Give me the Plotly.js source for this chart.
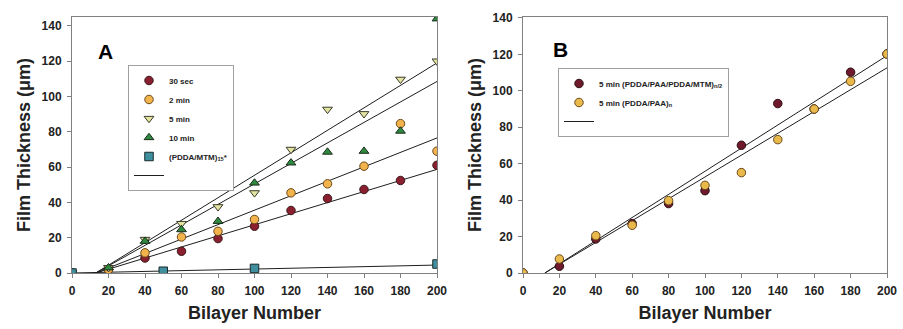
<!DOCTYPE html>
<html>
<head>
<meta charset="utf-8">
<script src="https://cdn.plot.ly/plotly-3.0.1.min.js"></script>
<style>html,body{margin:0;padding:0;background:#fff;}#chart{width:903px;height:329px;}</style>
</head>
<body>
<div id="chart"></div>
<script>
// ---- Panel A data ----
const bilayerA = [0, 20, 40, 60, 80, 100, 120, 140, 160, 180, 200];
const a30sec = [0, 2, 8.5, 12.3, 19.5, 26.5, 35.4, 42.2, 47.3, 52.4, 61];
const a2min  = [0, 2, 11.4, 20.4, 23.6, 30.3, 45.4, 50.5, 60.5, 84.6, 69];
const a5min  = [0, 3, 19, 28, 37.5, 45.4, 70, 92.7, 90.2, 109.7, 120];
const a10min = [0, 3, 18, 24.6, 29.3, 51, 62.4, 68.5, 69, 80.4, 144];
const bilayerPddaMtm = [0, 50, 100, 200];
const aPddaMtm = [0, 1, 2.6, 5.1];
// regression lines
const fitAx = [13, 200];
const fitA5min = [0, 119];
const fitA10min = [0, 108.5];
const fitA2min = [0, 76.5];
const fitA30sec = [0, 58.7];
const fitAPddaX = [0, 200];
const fitAPdda = [0, 4.5];

// ---- Panel B data ----
const bilayerB = [0, 20, 40, 60, 80, 100, 120, 140, 160, 180, 200];
const bMixed = [0, 3.7, 18.7, 27.1, 38.1, 45.2, 70.1, 93, 90, 110.2, 120.2];
const bPaa   = [0, 7.7, 20.5, 26.2, 39.7, 48.1, 55.1, 73.2, 90, 105.2, 120.2];
const fitBx = [12, 200];
const fitBMixed = [0, 119.3];
const fitBPaa = [0, 112.6];

const yTicks = [0, 20, 40, 60, 80, 100, 120, 140];
const xTicks = [0, 20, 40, 60, 80, 100, 120, 140, 160, 180, 200];

const FONT = 'Liberation Sans, Arial, sans-serif';
const lineStyle = {color: '#1e1e1e', width: 1};

function fit(x, y, xa, ya, legend, show) {
  return {x: x, y: y, xaxis: xa, yaxis: ya, mode: 'lines', line: lineStyle,
          name: '\u00a0', showlegend: !!show, legend: legend, hoverinfo: 'skip'};
}
function pts(x, y, xa, ya, name, symbol, fill, edge, legend) {
  return {x: x, y: y, xaxis: xa, yaxis: ya, mode: 'markers', name: name, legend: legend,
          marker: {symbol: symbol, size: 8.5, color: fill, line: {color: edge, width: 1}}};
}

const traces = [
  fit(fitAx, fitA5min, 'x', 'y', 'legend', false),
  fit(fitAx, fitA10min, 'x', 'y', 'legend', false),
  fit(fitAx, fitA2min, 'x', 'y', 'legend', false),
  fit(fitAx, fitA30sec, 'x', 'y', 'legend', false),
  fit(fitAPddaX, fitAPdda, 'x', 'y', 'legend', false),
  pts(bilayerA, a30sec, 'x', 'y', '30 sec', 'circle', '#8a1f30', '#3a1a1a', 'legend'),
  pts(bilayerA, a2min, 'x', 'y', '2 min', 'circle', '#f2b24c', '#6b4a1a', 'legend'),
  pts(bilayerA, a5min, 'x', 'y', '5 min', 'triangle-down', '#e4e4a2', '#3a3a2a', 'legend'),
  pts(bilayerA, a10min, 'x', 'y', '10 min', 'triangle-up', '#2f8a3f', '#1a2a1a', 'legend'),
  pts(bilayerPddaMtm, aPddaMtm, 'x', 'y', '(PDDA/MTM)<sub>15</sub>*', 'square', '#3f8f9f', '#1a2a2a', 'legend'),
  fit([0, 1], [null, null], 'x', 'y', 'legend', true),

  fit(fitBx, fitBMixed, 'x2', 'y2', 'legend2', false),
  fit(fitBx, fitBPaa, 'x2', 'y2', 'legend2', false),
  pts(bilayerB, bMixed, 'x2', 'y2', '5 min (PDDA/PAA/PDDA/MTM)<sub>n/2</sub>', 'circle', '#6e1a2c', '#2a1010', 'legend2'),
  pts(bilayerB, bPaa, 'x2', 'y2', '5 min (PDDA/PAA)<sub>n</sub>', 'circle', '#e9b94c', '#6b4a1a', 'legend2'),
  fit([0, 1], [null, null], 'x2', 'y2', 'legend2', true)
];

const tickFont = {family: FONT, size: 12, weight: 'bold', color: '#222'};
const titleFont = {family: FONT, size: 18, weight: 'bold', color: '#222'};

function xAxis(domain, anchor) {
  return {domain: domain, anchor: anchor, range: [0, 200], tickvals: xTicks, ticktext: xTicks.map(String),
    showgrid: false, zeroline: false, showline: true, linecolor: '#808080', linewidth: 1, mirror: true,
    ticks: 'outside', ticklen: 4, tickcolor: '#808080', ticklabelstandoff: 3, tickfont: tickFont,
    title: {text: 'Bilayer Number', font: titleFont, standoff: 8}};
}
function yAxis(domain, anchor, top) {
  return {domain: domain, anchor: anchor, range: [0, top], tickvals: yTicks, ticktext: yTicks.map(String),
    showgrid: false, zeroline: false, showline: true, linecolor: '#808080', linewidth: 1, mirror: true,
    ticks: 'outside', ticklen: 4, tickcolor: '#808080', ticklabelstandoff: 3, tickfont: tickFont,
    title: {text: 'Film Thickness (\u03bcm)', font: titleFont, standoff: 6}};
}

const legendBase = {bgcolor: '#fff', bordercolor: '#a0a0a0', borderwidth: 1,
  font: {family: FONT, size: 8, weight: 'bold', color: '#222'}, itemwidth: 30,
  xanchor: 'left', yanchor: 'top', tracegroupgap: 0, itemclick: false};

const layout = {
  width: 903, height: 329,
  margin: {l: 0, r: 0, t: 0, b: 0},
  paper_bgcolor: '#fff', plot_bgcolor: '#fff',
  font: {family: FONT},
  xaxis: xAxis([72 / 903, 437 / 903], 'y'),
  yaxis: yAxis([1 - 273 / 329, 1 - 17 / 329], 'x', 145),
  xaxis2: xAxis([523 / 903, 887 / 903], 'y2'),
  yaxis2: yAxis([1 - 273 / 329, 1 - 17 / 329], 'x2', 140.5),
  legend: Object.assign({}, legendBase, {x: 128 / 903, y: 1 - 65 / 329}),
  legend2: Object.assign({}, legendBase, {x: 558 / 903, y: 1 - 68 / 329}),
  annotations: [
    {text: 'A', xref: 'paper', yref: 'paper', x: 105 / 903, y: 1 - 51 / 329, xanchor: 'center', yanchor: 'middle',
     showarrow: false, font: {family: FONT, size: 21, weight: 'bold', color: '#000'}},
    {text: 'B', xref: 'paper', yref: 'paper', x: 560 / 903, y: 1 - 49 / 329, xanchor: 'center', yanchor: 'middle',
     showarrow: false, font: {family: FONT, size: 21, weight: 'bold', color: '#000'}}
  ],
  showlegend: true
};

Plotly.newPlot('chart', traces, layout, {staticPlot: true, displayModeBar: false});
</script>
</body>
</html>
